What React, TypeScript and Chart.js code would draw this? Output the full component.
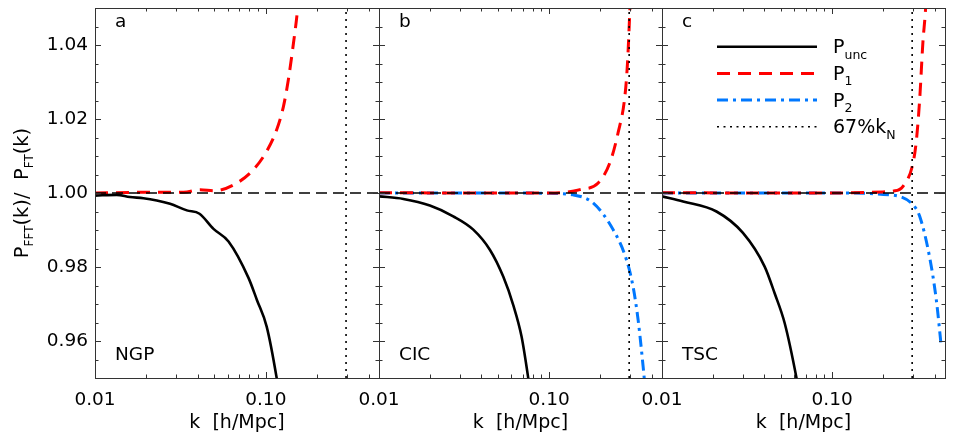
import React, { useEffect, useRef } from 'react';
import { Chart, registerables } from 'chart.js';
Chart.register(...registerables);

const W = 954;
const H = 445;

// ---------- axis data ----------
const X_MIN = 0.01;
const X_MAX = 0.46;
const Y_MIN = 0.95;
const Y_MAX = 1.05;
const xTickValues = [0.01, 0.02, 0.03, 0.04, 0.05, 0.06, 0.07, 0.08, 0.09, 0.1, 0.2, 0.3, 0.4];
const xLabeledTicks = [0.01, 0.1];
const yTickValues = [
  0.95, 0.955, 0.96, 0.965, 0.97, 0.975, 0.98, 0.985, 0.99, 0.995, 1.0,
  1.005, 1.01, 1.015, 1.02, 1.025, 1.03, 1.035, 1.04, 1.045, 1.05,
];
const yLabeledTicks = [0.96, 0.98, 1.0, 1.02, 1.04];
const xTitle = 'k  [h/Mpc]';
const panelLetters = ['a', 'b', 'c'];
const schemeNames = ['NGP', 'CIC', 'TSC'];

// reference lines
const refLineK = [0.01, 0.46];
const refLineV = [1.0, 1.0];
const kNyqLineK = [0.295, 0.295];
const kNyqLineV = [0.95, 1.05];

// ---------- NGP ----------
const ngpUncK = [0.01, 0.0134, 0.016, 0.0192, 0.023, 0.0275, 0.0345, 0.0409, 0.0494, 0.0605, 0.0793, 0.0887, 0.1012, 0.1158, 0.122];
const ngpUncV = [0.9993, 0.9995, 0.9989, 0.9986, 0.998, 0.9971, 0.9953, 0.9944, 0.9903, 0.9869, 0.977, 0.9711, 0.9639, 0.95, 0.943];
const ngpP1K = [0.01, 0.02, 0.033, 0.0413, 0.05, 0.0678, 0.0846, 0.1012, 0.1158, 0.127, 0.1356, 0.1453, 0.1528, 0.157];
const ngpP1V = [1.0, 1.0002, 1.0002, 1.0009, 1.0006, 1.0027, 1.0063, 1.0113, 1.0171, 1.0235, 1.0307, 1.0406, 1.0488, 1.055];

// ---------- CIC ----------
const cicUncK = [0.01, 0.0139, 0.0199, 0.0273, 0.0358, 0.0449, 0.0537, 0.0615, 0.0688, 0.0753, 0.079];
const cicUncV = [0.9991, 0.9984, 0.9966, 0.9937, 0.9901, 0.9846, 0.9774, 0.9697, 0.9612, 0.95, 0.943];
const cicP1K = [0.01, 0.03, 0.06, 0.1, 0.1265, 0.1514, 0.194, 0.227, 0.254, 0.2785, 0.2885, 0.298, 0.302];
const cicP1V = [1.0001, 1.0, 1.0, 1.0, 1.0002, 1.0009, 1.0027, 1.0081, 1.0163, 1.0262, 1.0352, 1.0497, 1.056];
const cicP2K = [0.01, 0.03, 0.06, 0.1, 0.138, 0.181, 0.2375, 0.2847, 0.311, 0.333, 0.3565, 0.365];
const cicP2V = [1.0, 1.0, 1.0, 0.9999, 0.9995, 0.9973, 0.9901, 0.9819, 0.9747, 0.9657, 0.953, 0.948];

// ---------- TSC ----------
const tscUncK = [0.01, 0.0133, 0.0209, 0.0299, 0.0401, 0.0459, 0.0526, 0.0617, 0.065];
const tscUncV = [0.9991, 0.9977, 0.995, 0.9892, 0.9801, 0.9729, 0.9648, 0.95, 0.944];
const tscP1K = [0.01, 0.03, 0.06, 0.1, 0.1986, 0.2275, 0.2606, 0.2985, 0.3126, 0.3266, 0.341, 0.354, 0.358];
const tscP1V = [1.0001, 1.0, 1.0, 1.0, 1.0003, 1.0005, 1.0018, 1.0081, 1.0144, 1.0253, 1.0406, 1.0501, 1.055];
const tscP2K = [0.01, 0.03, 0.06, 0.1, 0.217, 0.2985, 0.3266, 0.373, 0.409, 0.4375];
const tscP2V = [1.0, 1.0, 1.0, 1.0, 0.9995, 0.9968, 0.9937, 0.9828, 0.9711, 0.9585];

// legend entries: [style, main text, subscript]
const legendEntries: [string, string, string][] = [
  ['unc', 'P', 'unc'],
  ['p1', 'P', '1'],
  ['p2', 'P', '2'],
  ['kn', '67%k', 'N'],
];

// ---------- layout & styles ----------
const PANEL_LEFT = [95, 379, 662];
const PANEL_RIGHT = [379, 662, 945];
const TOP = 8;
const BOTTOM = 378;
const FONT = '"DejaVu Sans", "Liberation Sans", sans-serif';
const FS = 18.5;

const STYLES: Record<string, { color: string; width: number; dash: number[] }> = {
  unc: { color: '#000000', width: 2.6, dash: [] },
  p1: { color: '#ff0000', width: 3, dash: [13, 8] },
  p2: { color: 'rgb(0,120,255)', width: 3, dash: [11, 5, 3, 5] },
  kn: { color: '#000000', width: 1.6, dash: [2, 5] },
  ref: { color: '#000000', width: 1.5, dash: [11, 6] },
};

const panelSeries = [
  [
    { k: ngpUncK, v: ngpUncV, s: 'unc' },
    { k: ngpP1K, v: ngpP1V, s: 'p1' },
  ],
  [
    { k: cicUncK, v: cicUncV, s: 'unc' },
    { k: cicP1K, v: cicP1V, s: 'p1' },
    { k: cicP2K, v: cicP2V, s: 'p2' },
  ],
  [
    { k: tscUncK, v: tscUncV, s: 'unc' },
    { k: tscP1K, v: tscP1V, s: 'p1' },
    { k: tscP2K, v: tscP2V, s: 'p2' },
  ],
];

function toPts(k: number[], v: number[]) {
  return k.map((x, i) => ({ x, y: v[i] }));
}

function drawRich(ctx: CanvasRenderingContext2D, parts: { t: string; sub?: boolean }[], x: number, y: number, size: number, subSize: number, drop: number, measureOnly = false) {
  let cx = x;
  for (const p of parts) {
    ctx.font = `${p.sub ? subSize : size}px ${FONT}`;
    if (!measureOnly) ctx.fillText(p.t, cx, p.sub ? y + drop : y);
    cx += ctx.measureText(p.t).width;
  }
  return cx - x;
}

function makeConfig(idx: number): any {
  const datasets: any[] = [];
  const mk = (k: number[], v: number[], s: string, smooth: boolean) => ({
    data: toPts(k, v),
    borderColor: STYLES[s].color,
    borderWidth: STYLES[s].width,
    borderDash: STYLES[s].dash,
    borderCapStyle: 'butt',
    pointRadius: 0,
    fill: false,
    cubicInterpolationMode: smooth ? 'monotone' : 'default',
    tension: 0,
  });
  datasets.push(mk(refLineK, refLineV, 'ref', false));
  datasets.push(mk(kNyqLineK, kNyqLineV, 'kn', false));
  for (const ser of panelSeries[idx]) datasets.push(mk(ser.k, ser.v, ser.s, true));

  const decorations = {
    id: 'decor' + idx,
    afterDraw(chart: any) {
      const { ctx, chartArea } = chart;
      const { left, right, top, bottom } = chartArea;
      const xs = chart.scales.x;
      const ys = chart.scales.y;
      ctx.save();
      ctx.setLineDash([]);
      ctx.strokeStyle = '#333';
      ctx.lineWidth = 1;
      ctx.strokeRect(Math.round(left) + 0.5, Math.round(top) + 0.5, Math.round(right - left), Math.round(bottom - top));
      ctx.beginPath();
      for (const v of xTickValues) {
        const px = Math.round(xs.getPixelForValue(v)) + 0.5;
        const len = xLabeledTicks.includes(v) ? 6 : 3.5;
        ctx.moveTo(px, bottom);
        ctx.lineTo(px, bottom - len);
        ctx.moveTo(px, top);
        ctx.lineTo(px, top + len);
      }
      for (const v of yTickValues) {
        const py = Math.round(ys.getPixelForValue(v)) + 0.5;
        const len = yLabeledTicks.some((l) => Math.abs(l - v) < 1e-9) ? 6 : 3.5;
        ctx.moveTo(left, py);
        ctx.lineTo(left + len, py);
        ctx.moveTo(right, py);
        ctx.lineTo(right - len, py);
      }
      ctx.stroke();

      ctx.fillStyle = '#000';
      ctx.textAlign = 'left';
      ctx.textBaseline = 'alphabetic';
      ctx.font = `${FS}px ${FONT}`;
      ctx.fillText(panelLetters[idx], left + 20, top + 19);
      ctx.fillText(schemeNames[idx], left + 20, 360);

      if (idx === 0) {
        const parts = [
          { t: 'P' }, { t: 'FFT', sub: true }, { t: '(k)/  P' }, { t: 'FT', sub: true }, { t: '(k)' },
        ];
        const w = drawRich(ctx, parts, 0, 0, 19.5, 12, 5, true);
        ctx.save();
        ctx.translate(0, (top + bottom) / 2);
        ctx.rotate(-Math.PI / 2);
        drawRich(ctx, parts, -w / 2, 28, 19.5, 12, 5);
        ctx.restore();
      }

      if (idx === 2) {
        const x1 = left + 55;
        const x2 = left + 155;
        const tx = left + 171;
        legendEntries.forEach(([s, main, sub], i) => {
          const y = top + 38.7 + i * 26.7;
          const st = STYLES[s];
          ctx.beginPath();
          ctx.strokeStyle = st.color;
          ctx.lineWidth = st.width;
          ctx.setLineDash(s === 'kn' ? [2, 4.5] : st.dash);
          ctx.moveTo(x1, y);
          ctx.lineTo(x2, y);
          ctx.stroke();
          ctx.setLineDash([]);
          ctx.fillStyle = '#000';
          drawRich(ctx, [{ t: main }, { t: sub, sub: true }], tx, y + 6.5, 19, 12.5, 5.5);
        });
      }
      ctx.restore();
    },
  };

  return {
    type: 'line',
    data: { datasets },
    plugins: [decorations],
    options: {
      responsive: false,
      animation: false,
      devicePixelRatio: 1,
      layout: {
        autoPadding: false,
        padding: { left: idx === 0 ? 0 : PANEL_LEFT[idx], right: W - PANEL_RIGHT[idx], top: TOP, bottom: 0 },
      },
      plugins: { legend: { display: false }, tooltip: { enabled: false } },
      scales: {
        x: {
          type: 'logarithmic',
          min: X_MIN,
          max: X_MAX,
          grid: { display: false, drawTicks: false },
          border: { display: false },
          afterBuildTicks: (s: any) => {
            s.ticks = xTickValues.map((v) => ({ value: v }));
          },
          afterFit: (s: any) => {
            s.height = H - BOTTOM;
            s.paddingLeft = 0;
            s.paddingRight = 0;
            s.paddingTop = 0;
            s.paddingBottom = 0;
          },
          ticks: {
            autoSkip: false,
            maxRotation: 0,
            minRotation: 0,
            padding: 11,
            color: '#000',
            font: { family: FONT, size: FS },
            callback: (v: number) => (xLabeledTicks.includes(v) ? v.toFixed(2) : ''),
          },
          title: {
            display: true,
            text: xTitle,
            color: '#000',
            font: { family: FONT, size: 19 },
            padding: { top: 0, bottom: 11 },
          },
        },
        y: {
          type: 'linear',
          min: Y_MIN,
          max: Y_MAX,
          display: idx === 0,
          grid: { display: false, drawTicks: false },
          border: { display: false },
          afterBuildTicks: (s: any) => {
            s.ticks = yTickValues.map((v) => ({ value: v }));
          },
          afterFit: (s: any) => {
            s.width = idx === 0 ? PANEL_LEFT[0] : 0;
            s.paddingLeft = 0;
            s.paddingRight = 0;
            s.paddingTop = 0;
            s.paddingBottom = 0;
          },
          ticks: {
            autoSkip: false,
            padding: 7,
            color: '#000',
            font: { family: FONT, size: FS },
            callback: (v: number) => (yLabeledTicks.some((l) => Math.abs(l - v) < 1e-9) ? v.toFixed(2) : ''),
          },
        },
      },
    },
  };
}

function Panel({ idx }: { idx: number }) {
  const ref = useRef<HTMLCanvasElement>(null);
  useEffect(() => {
    const chart = new Chart(ref.current as HTMLCanvasElement, makeConfig(idx));
    return () => chart.destroy();
  }, [idx]);
  return (
    <canvas
      ref={ref}
      width={W}
      height={H}
      style={{ position: 'absolute', left: 0, top: 0, width: W, height: H }}
    />
  );
}

export default function App() {
  return (
    <div style={{ position: 'absolute', left: 0, top: 0, width: W, height: H, background: '#fff', overflow: 'hidden' }}>
      {[0, 1, 2].map((i) => (
        <Panel key={i} idx={i} />
      ))}
    </div>
  );
}
